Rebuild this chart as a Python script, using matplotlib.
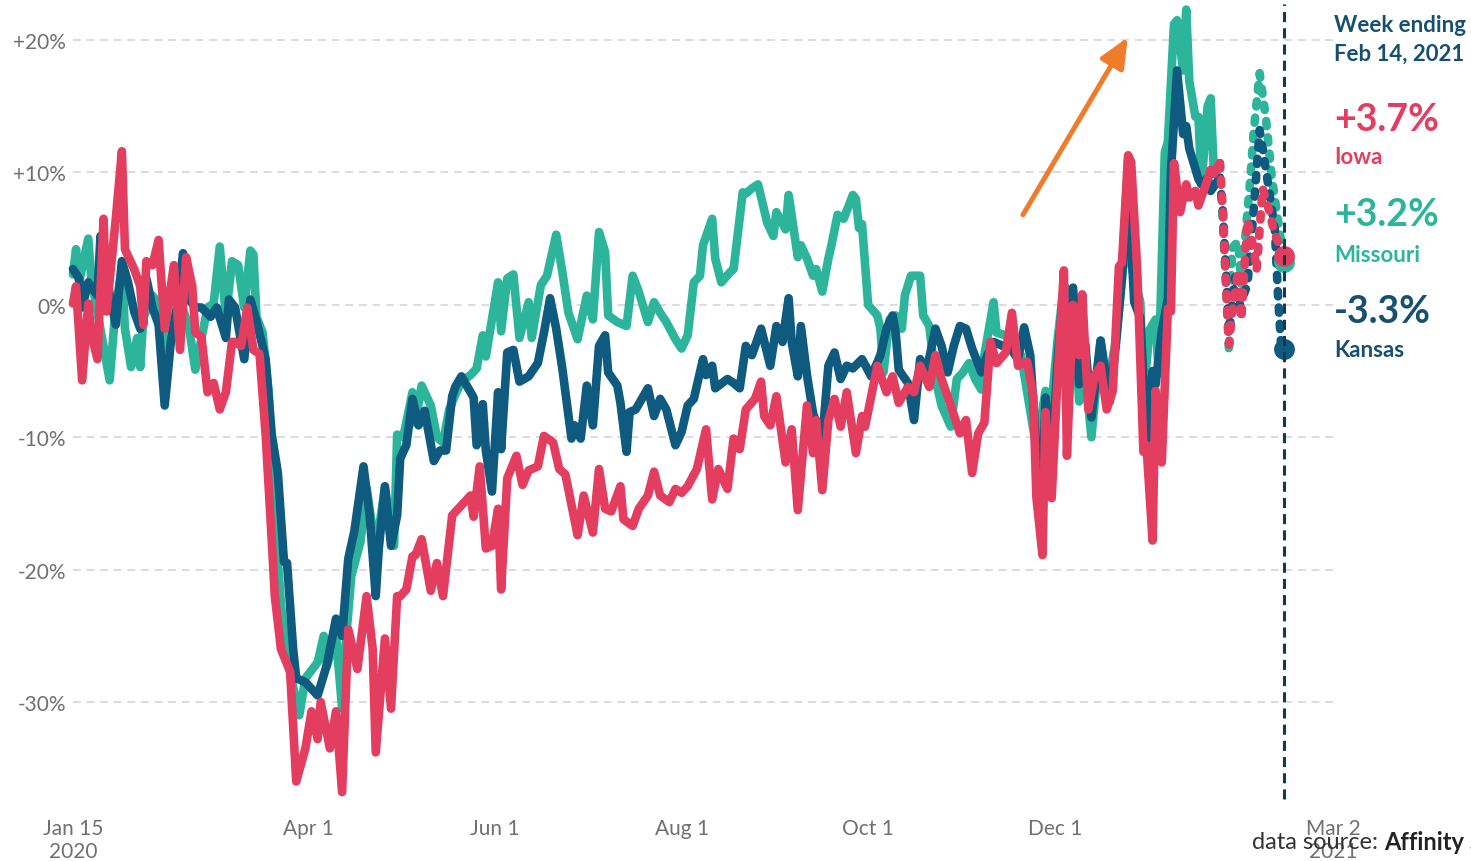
import matplotlib
import matplotlib.pyplot as plt
import pandas as pd

matplotlib.use('Agg')
plt.rcParams['font.family'] = ['Lato', 'DejaVu Sans']

# days counted from Jan 15 2020, values are % change
start = pd.Timestamp('2020-01-15')
split_day = 375  # dashed (preliminary) part starts here

kansas_days = [0, 2, 3, 5, 8, 9, 11, 14, 16, 18, 20, 22, 24, 26, 28, 30, 32, 34, 36, 37, 40, 42, 45, 47, 50,
               51, 53, 56, 58, 60, 63, 65, 67, 69, 70, 72, 73, 76, 78, 80, 83, 86, 88, 90, 92, 95, 97, 99, 100,
               102, 104, 106, 107, 109, 111, 113, 115, 118, 120, 122, 124, 125, 127, 129, 131, 132, 134, 135,
               137, 139, 140, 142, 144, 146, 149, 152, 154, 156, 158, 160, 163, 164, 166, 168, 170, 172, 174,
               175, 178, 179, 181, 182, 184, 188, 190, 192, 194, 197, 199, 201, 203, 206, 207, 209, 210, 214,
               216, 218, 220, 222, 225, 228, 230, 232, 234, 235, 237, 238, 240, 242, 245, 247, 249, 251, 253,
               255, 258, 261, 264, 266, 268, 269, 270, 273, 275, 277, 279, 282, 284, 286, 288, 290, 292, 294,
               297, 298, 301, 304, 306, 309, 311, 313, 315, 317, 318, 320, 322, 324, 325, 327, 329, 331, 333,
               336, 339, 341, 343, 345, 347, 349, 351, 353, 354, 356, 358, 359, 361, 363, 364, 365, 368, 369,
               371, 372, 375, 376, 378, 380, 381, 384, 386, 388, 389, 391, 393, 394, 395, 396]
kansas_pct = [2.7, 2.0, -0.2, 1.7, 0.7, 5.2, 2.0, -1.5, 3.3, 1.7, -0.5, -1.8, 2.0, -0.2, -1.5, -7.6, -2.8, -0.2,
              3.9, 0.7, -0.2, -0.2, -0.9, -0.2, -2.5, 0.4, -0.2, -4.1, 0.4, -1.2, -4.1, -9.8, -12.7, -19.4,
              -19.5, -26.0, -28.2, -28.5, -29.0, -29.5, -27.2, -23.7, -25.0, -19.2, -17.1, -12.2, -15.9, -22.0,
              -18.4, -13.7, -18.2, -15.9, -11.6, -10.6, -7.1, -9.1, -8.0, -11.8, -11.0, -11.0, -6.9, -6.2,
              -5.4, -6.2, -7.0, -10.6, -7.5, -11.0, -14.1, -6.6, -10.9, -3.6, -3.4, -5.8, -5.4, -4.4, -2.1,
              0.5, -1.8, -4.8, -10.1, -9.1, -10.1, -6.1, -9.1, -3.1, -2.3, -5.1, -6.1, -7.4, -11.1, -8.1,
              -7.9, -6.3, -8.4, -7.1, -7.9, -10.6, -9.6, -7.6, -7.1, -4.1, -5.3, -4.6, -6.3, -5.6, -5.9, -6.3,
              -3.1, -3.8, -1.8, -4.6, -1.6, -2.8, 0.5, -2.8, -5.4, -1.6, -5.3, -8.2, -10.2, -4.6, -3.6, -5.6,
              -4.6, -4.8, -4.1, -5.4, -3.8, -1.8, -0.8, -2.1, -4.9, -5.9, -8.7, -4.1, -5.1, -1.8, -3.1, -5.1,
              -3.1, -1.6, -1.8, -3.3, -5.1, -4.3, -2.8, -3.1, -3.1, -4.1, -1.7, -3.8, -11.0, -14.0, -7.0,
              -12.0, -4.0, 1.5, -5.0, 1.3, -6.0, -3.0, -8.5, -2.7, -7.3, -3.0, 2.0, 9.0, 0.2, -1.0, -10.3,
              -5.0, -6.0, -2.0, 0.5, 10.0, 17.7, 12.9, 13.5, 11.8, 9.5, 9.1, 9.6, 8.6, 9.6, 7.0, -2.2, 2.1,
              -0.3, 1.5, 7.0, 13.2, 11.8, 8.8, 5.6, 0.8, -3.0, -3.3]

missouri_days = [0, 1, 2, 5, 6, 12, 14, 16, 17, 19, 21, 22, 23, 26, 27, 30, 33, 35, 38, 40, 44, 46, 48, 50,
                 52, 54, 56, 58, 59, 60, 62, 64, 66, 68, 70, 74, 76, 80, 82, 83, 86, 88, 89, 91, 94, 96, 99,
                 102, 105, 106, 108, 111, 112, 114, 117, 119, 121, 123, 125, 127, 130, 132, 134, 135, 139,
                 140, 142, 144, 146, 149, 150, 153, 155, 158, 160, 162, 165, 168, 170, 172, 174, 175, 178,
                 181, 183, 185, 188, 190, 192, 194, 197, 199, 201, 203, 205, 206, 209, 210, 212, 215, 216,
                 219, 220, 222, 224, 227, 229, 230, 233, 234, 237, 238, 240, 242, 243, 245, 247, 248, 250,
                 252, 255, 256, 257, 258, 260, 263, 264, 265, 267, 269, 271, 272, 274, 277, 278, 280, 282,
                 284, 287, 289, 291, 293, 295, 297, 298, 301, 302, 305, 307, 310, 315, 318, 320, 322, 324,
                 327, 329, 331, 333, 336, 338, 341, 343, 345, 346, 349, 350, 352, 354, 355, 357, 358, 360,
                 361, 363, 364, 365, 367, 368, 369, 371, 372, 373, 375, 377, 378, 379, 381, 382, 385, 386,
                 388, 390, 392, 394, 396]
missouri_pct = [2.3, 4.2, 1.7, 5.0, 2.0, -5.7, 0.0, 2.6, -1.8, -4.7, -2.5, -4.7, -1.0, 0.7, 0.4, -3.7, -0.9,
                0.4, -1.8, -4.9, -0.2, 0.1, 4.4, -0.9, 3.3, 3.0, -0.2, 4.1, 3.8, -0.9, -2.1, -6.6, -16.0,
                -22.6, -26.7, -31.0, -28.2, -27.0, -25.0, -27.3, -25.0, -30.5, -26.0, -20.5, -17.9, -13.8,
                -18.6, -13.8, -18.2, -9.8, -10.0, -6.6, -8.9, -6.1, -7.6, -10.0, -10.4, -7.9, -6.8, -5.8,
                -5.3, -4.8, -2.3, -3.9, 1.7, -2.0, 2.0, 2.3, -2.5, 0.2, -2.5, 1.5, 2.2, 5.3, 2.5, -0.6, -2.6,
                0.7, -1.1, 5.5, 4.0, -0.8, -1.3, -1.6, 2.2, 1.0, -1.3, 0.2, -0.6, -1.3, -2.6, -3.3, -2.3, 1.7,
                2.2, 4.5, 6.5, 3.5, 1.7, 2.5, 2.7, 8.5, 8.4, 8.8, 9.1, 6.2, 5.2, 7.0, 5.7, 8.3, 3.6, 4.5, 3.5,
                2.2, 2.7, 1.0, 3.5, 4.5, 6.8, 6.5, 8.3, 8.0, 5.8, 6.1, 0.0, -0.8, -1.8, -5.1, -1.1, -0.8, -1.8,
                0.7, 2.2, 2.2, -0.8, -1.6, -5.6, -7.6, -9.2, -5.6, -5.1, -4.4, -5.6, -6.4, -3.8, 0.2, -2.1,
                -2.3, -3.1, -3.8, -10.8, -6.5, -7.5, -2.5, 1.5, 0.2, -7.3, -5.2, -10.0, -2.7, -6.5, -2.7, 2.1,
                11.0, 3.0, 0.2, -7.1, -1.9, -1.1, -5.2, 11.5, 12.3, 21.2, 21.5, 17.7, 22.3, 16.9, 14.2, 14.2,
                9.1, 15.0, 15.6, 10.2, 10.7, 1.6, -3.6, 4.3, 4.8, 1.6, 9.6, 12.9, 17.5, 14.2, 9.6, 6.4, 3.2]

iowa_days = [0, 1, 3, 5, 6, 8, 10, 11, 14, 16, 17, 20, 22, 23, 24, 26, 28, 30, 33, 35, 37, 39, 40, 42, 44, 46,
             48, 50, 52, 53, 55, 57, 59, 61, 63, 65, 66, 68, 71, 73, 76, 78, 80, 81, 84, 86, 88, 90, 93, 96,
             98, 99, 102, 104, 106, 107, 109, 111, 112, 114, 117, 119, 121, 124, 126, 130, 131, 133, 135, 137,
             139, 140, 142, 145, 147, 149, 152, 154, 157, 159, 161, 165, 167, 170, 172, 174, 176, 179, 180,
             183, 185, 188, 190, 192, 195, 197, 199, 201, 204, 207, 209, 211, 214, 216, 218, 220, 223, 225,
             226, 228, 230, 233, 235, 237, 240, 242, 243, 245, 247, 249, 251, 253, 256, 258, 259, 261, 263,
             266, 268, 270, 273, 275, 277, 280, 282, 284, 287, 290, 292, 294, 296, 298, 300, 302, 305, 307,
             309, 312, 314, 315, 317, 318, 320, 322, 324, 325, 327, 329, 330, 332, 334, 336, 338, 340, 342,
             343, 345, 346, 348, 350, 351, 353, 354, 356, 358, 359, 360, 362, 364, 365, 367, 368, 370, 372,
             373, 375, 376, 377, 378, 379, 381, 382, 384, 386, 387, 389, 391, 393, 396]
iowa_pct = [0.1, 1.4, -5.7, 0.1, -2.2, -4.1, 6.5, -0.5, 6.5, 11.6, 4.2, 2.7, 1.4, -1.5, 3.3, 3.0, 4.9, -1.8,
            3.0, -3.4, 3.6, 1.4, -2.1, -2.4, -6.6, -5.9, -7.9, -6.6, -2.8, -2.8, -3.1, -0.2, -3.4, -3.7, -9.8,
            -17.8, -22.0, -26.0, -27.7, -36.0, -33.5, -30.7, -32.8, -30.0, -33.5, -30.7, -36.8, -24.5, -27.5,
            -22.0, -26.0, -33.8, -25.2, -30.5, -22.0, -22.0, -21.5, -19.0, -18.9, -17.7, -21.6, -19.5, -22.0,
            -15.9, -15.4, -14.4, -16.0, -12.2, -18.4, -18.2, -15.4, -21.5, -13.1, -11.4, -13.6, -12.5, -12.2,
            -9.9, -10.4, -12.4, -12.8, -17.4, -14.4, -17.2, -12.4, -15.4, -15.6, -13.7, -16.2, -16.7, -15.4,
            -14.4, -12.6, -14.4, -14.9, -13.9, -14.2, -13.7, -12.4, -9.4, -14.7, -12.4, -13.9, -10.1, -10.9,
            -7.9, -7.1, -5.8, -8.4, -9.1, -6.9, -11.9, -9.4, -15.5, -7.6, -11.2, -8.7, -14.0, -8.7, -7.1,
            -9.2, -6.6, -11.2, -8.4, -9.2, -6.9, -4.6, -6.6, -5.4, -7.4, -6.2, -6.6, -4.6, -6.2, -3.8, -5.6,
            -7.6, -9.7, -8.7, -12.7, -9.7, -8.9, -2.8, -4.4, -3.6, -0.6, -4.6, -4.3, -6.9, -14.5, -18.9,
            -8.1, -14.6, -5.2, 2.6, -11.4, 0.0, -3.8, 0.8, -7.9, -5.4, -4.6, -7.9, -6.5, 2.9, 3.2, 11.3,
            10.8, 2.6, -11.1, -10.6, -17.8, -6.5, -11.9, -0.3, -0.5, 10.7, 7.0, 9.1, 8.1, 8.6, 7.5, 8.8,
            10.2, 9.9, 10.7, 7.0, 1.6, -3.0, -0.6, 2.6, -1.1, 6.4, 4.3, 2.6, 8.8, 7.2, 5.3, 3.7]

tick_dates = ['2020-01-15', '2020-04-01', '2020-06-01', '2020-08-01', '2020-10-01', '2020-12-01', '2021-03-02']
tick_labels = ['Jan 15\n2020', 'Apr 1', 'Jun 1', 'Aug 1', 'Oct 1', 'Dec 1', 'Mar 2\n2021']
y_ticks = [-30, -20, -10, 0, 10, 20]
y_labels = ['-30%', '-20%', '-10%', '0%', '+10%', '+20%']

# arrow annotation (days, %)
arrow_tail = (310.6, 6.8)
arrow_tip = (344.9, 20.2)

kansas_color = '#0f5a7f'
missouri_color = '#2db59c'
iowa_color = '#e33e60'
label_navy = '#17506e'
grey = '#707070'


def to_dates(days):
    return start + pd.to_timedelta(days, unit='D')


fig = plt.figure(figsize=(14.71, 8.62), dpi=100)
ax = fig.add_axes([0.0496, 0.0615, 0.8566, 0.9385])

series = [
    (missouri_days, missouri_pct, missouri_color),
    (kansas_days, kansas_pct, kansas_color),
    (iowa_days, iowa_pct, iowa_color),
]

for days, vals, color in series:
    s = pd.Series(vals, index=days)
    solid = s[s.index <= split_day]
    dashed = s[s.index >= split_day]
    ax.plot(to_dates(solid.index), solid.values, color=color, lw=6.2,
            solid_capstyle='round', solid_joinstyle='round', clip_on=False)
    ax.plot(to_dates(dashed.index), dashed.values, color=color, lw=6.2,
            linestyle=(0, (0.6, 1.3)), dash_capstyle='round', clip_on=False)

# end dots, Iowa on top of Missouri
for days, vals, color in [series[1], series[0], series[2]]:
    ax.plot(to_dates([days[-1]]), [vals[-1]], 'o', color=color, ms=15, mec='none', zorder=5, clip_on=False)

# week ending line
end_date = to_dates([kansas_days[-1]])[0]
ax.plot([end_date, end_date], [-37.3, 22.7], color='#103c50', lw=2.2,
        linestyle=(0, (3.3, 2.0)), zorder=6, clip_on=False)

ax.annotate('', xy=(to_dates([arrow_tip[0]])[0], arrow_tip[1]),
            xytext=(to_dates([arrow_tail[0]])[0], arrow_tail[1]),
            arrowprops=dict(arrowstyle='-|>,head_length=0.9,head_width=0.4', color='#ee7c2b',
                            lw=3.6, shrinkA=0, shrinkB=0, mutation_scale=20))

ax.set_xlim(start, pd.Timestamp('2021-03-02'))
ax.set_ylim(-38, 23.1)
ax.set_xticks(pd.to_datetime(tick_dates))
ax.set_xticklabels(tick_labels)
ax.set_yticks(y_ticks)
ax.set_yticklabels(y_labels)
ax.tick_params(length=0, labelsize=15, labelcolor=grey)
ax.tick_params(axis='x', pad=7)
ax.tick_params(axis='y', pad=5)
ax.grid(axis='y', color='#dcdcdc', lw=1.4, linestyle=(0, (4, 3)))
ax.set_axisbelow(True)
for side in ax.spines.values():
    side.set_visible(False)

# right-hand labels
W, H = 1471, 862
lx = 1334 / W
fig.text(lx, 1 - 25 / H, 'Week ending', color=label_navy, fontsize=16, fontweight='bold', va='center')
fig.text(lx, 1 - 54 / H, 'Feb 14, 2021', color=label_navy, fontsize=16, fontweight='bold', va='center')
labels = [
    (iowa_pct[-1], 'Iowa', iowa_color, 120, 158),
    (missouri_pct[-1], 'Missouri', missouri_color, 215, 255),
    (kansas_pct[-1], 'Kansas', label_navy, 312, 351),
]
for val, name, color, y_val, y_name in labels:
    fig.text(lx, 1 - y_val / H, f'{val:+.1f}%', color=color, fontsize=27, fontweight='bold', va='center')
    fig.text(lx, 1 - y_name / H, name, color=color, fontsize=16, fontweight='bold', va='center')

# source line runs off the right edge like the original
src = fig.text(1252 / W, 1 - 843 / H, 'data source: ', color='#333333', fontsize=17, va='center')
ax.annotate('Affinity Solutions', xy=(1, 0.5), xycoords=src, va='center', ha='left',
            color='#222222', fontsize=17, fontweight='bold', annotation_clip=False)

plt.savefig('out.png', dpi=100)
plt.close()
